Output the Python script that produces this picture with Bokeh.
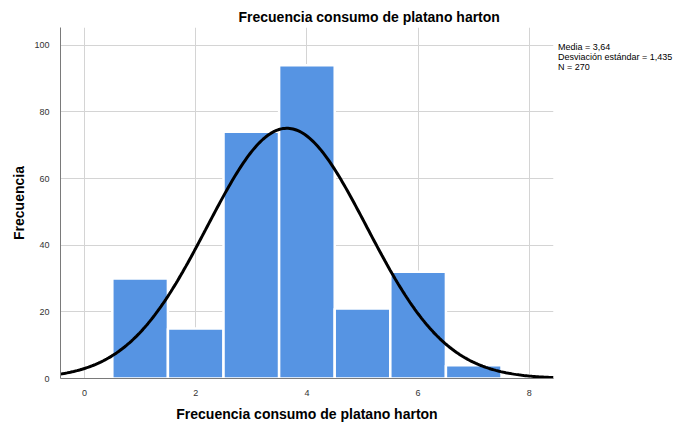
import math
import numpy as np
from bokeh.plotting import figure
from bokeh.models import FixedTicker, ColumnDataSource, Legend, LegendItem
from bokeh.embed import file_html
from bokeh.resources import INLINE

# ---- data ----
categories = [1, 2, 3, 4, 5, 6, 7]
counts = [30, 15, 74, 94, 21, 32, 4]
bin_width = 1.0
mean = 3.64
std_dev = 1.435
n_total = 270
x_ticks = [0, 2, 4, 6, 8]
y_ticks = [0, 20, 40, 60, 80, 100]
title_text = "Frecuencia consumo de platano harton"
x_label = "Frecuencia consumo de platano harton"
y_label = "Frecuencia"
stats_lines = ["Media = 3,64", "Desviación estándar = 1,435", "N = 270"]

FONT = "Liberation Sans"

p = figure(
    frame_width=493, frame_height=351,
    min_border_left=60, min_border_top=27, min_border_right=129, min_border_bottom=46,
    x_range=(-0.432, 8.435), y_range=(0, 105.3),
    output_backend="svg", toolbar_location=None,
    title=title_text,
)
p.outline_line_color = None
p.background_fill_color = "white"
p.border_fill_color = "white"

# title
p.title.text_font = FONT
p.title.text_font_size = "14px"
p.title.text_font_style = "bold"
p.title.text_color = "black"
p.title.align = "left"
p.title.offset = 178
p.title.standoff = 6

# grid
p.xgrid.ticker = FixedTicker(ticks=x_ticks)
p.ygrid.ticker = FixedTicker(ticks=y_ticks)
for g in (p.xgrid, p.ygrid):
    g.grid_line_color = "#d4d4d4"
    g.grid_line_width = 1

# axes
p.xaxis.ticker = FixedTicker(ticks=x_ticks)
p.yaxis.ticker = FixedTicker(ticks=y_ticks)
p.xaxis.axis_label = x_label
p.yaxis.axis_label = y_label
for ax in (p.xaxis, p.yaxis):
    ax.major_tick_line_color = None
    ax.minor_tick_line_color = None
    ax.major_label_text_font = FONT
    ax.major_label_text_font_size = "9px"
    ax.major_label_text_color = "#333333"
    ax.major_label_standoff = 5
    ax.axis_line_color = "#7a7a7a"
    ax.axis_line_width = 1
    ax.axis_label_text_font = FONT
    ax.axis_label_text_font_size = "14px"
    ax.axis_label_text_font_style = "bold"
    ax.axis_label_text_color = "black"
p.xaxis.axis_label_standoff = 7
p.yaxis.axis_label_standoff = 4

# bars
src = ColumnDataSource(dict(x=categories, top=counts))
p.vbar(x="x", top="top", width=bin_width, bottom=0, source=src,
       fill_color="#5694E3", line_color="white", line_width=2.5)

# normal curve from the reported statistics
xs = np.linspace(-0.432, 8.435, 300)
ys = n_total * bin_width * np.exp(-0.5 * ((xs - mean) / std_dev) ** 2) / (std_dev * math.sqrt(2 * math.pi))
p.line(xs, ys, line_color="black", line_width=3)

# statistics box (text only) in the right panel
dummy = p.line([], [], line_alpha=0)
items = [LegendItem(label=s, renderers=[dummy]) for s in stats_lines]
leg = Legend(items=items, location=(5, 306), margin=0, padding=0, spacing=0,
             glyph_width=0, glyph_height=9, label_height=9, label_standoff=0,
             label_text_font=FONT, label_text_font_size="9px", label_text_color="black",
             border_line_color=None, background_fill_alpha=0)
p.add_layout(leg, "right")

open("out.html", "w").write(file_html(p, INLINE))
